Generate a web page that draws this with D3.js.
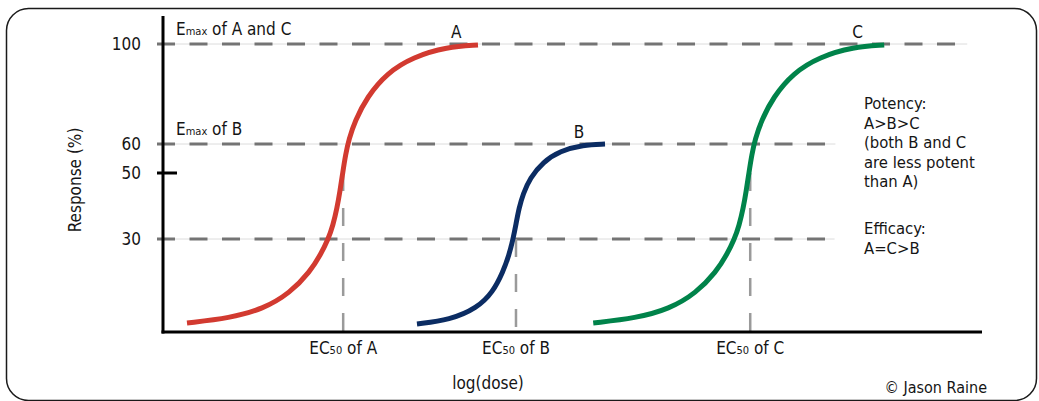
<!DOCTYPE html>
<html><head><meta charset="utf-8">
<script src="https://cdn.jsdelivr.net/npm/d3@7"></script>
<style>
html,body{margin:0;padding:0;background:#fff;}
svg{display:block;}
text{font-family:"DejaVu Sans Condensed","Liberation Sans Narrow",sans-serif;fill:#151515;}
</style></head><body>
<svg id="c" width="1039" height="401"></svg>
<script>
// ---- data (log-dose units, response %) ----
const curveNames = ["A", "B", "C"];
const curveColors = ["#d23a30", "#0b2c63", "#00834a"];
const doseA = [0.293,0.818,1.221,1.551,1.795,1.929,2.015,2.076,2.125,2.161,2.194,2.228,2.271,2.344,2.491,2.735,3.053,3.468,3.846];
const respA = [2.9,4.5,7.4,12.6,19.4,25.2,29.8,34.2,39.4,44.5,50.0,56.2,62.0,69.2,78.8,88.4,94.8,98.8,99.6];
const doseB = [3.101,3.504,3.834,4.029,4.151,4.225,4.274,4.310,4.347,4.396,4.481,4.640,4.847,5.128,5.397];
const respB = [2.6,3.9,7.7,12.9,19.4,24.8,30,34.5,39.4,43.6,48.5,53.8,57.6,59.7,60];
const doseC = [5.253,5.778,6.181,6.511,6.755,6.889,6.975,7.036,7.085,7.121,7.154,7.188,7.231,7.304,7.451,7.695,8.013,8.428,8.806];
const respC = [2.9,4.5,7.4,12.6,19.4,25.2,29.8,34.2,39.4,44.5,50.0,56.2,62.0,69.2,78.8,88.4,94.8,98.8,99.6];
const ec50Dose = [2.20, 4.31, 7.17];
const ec50Top = [50, 30, 50];
const yTickValues = [30, 50, 60, 100];
const yMajorTick = [50];
const gridLevels = [100, 60, 30];
const gridEnds = [9.82, 8.21, 8.20];
const curveLabelDose = [3.58, 5.08, 8.48];
const curveLabelResp = [100, 60, 100];
const potencyLines = ["Potency:", "A>B>C", "(both B and C", "are less potent", "than A)"];
const efficacyLines = ["Efficacy:", "A=C>B"];

const svg = d3.select("#c");
const FS = 17;

// border
svg.append("rect").attr("x", 6.5).attr("y", 8.5).attr("width", 1030).attr("height", 392)
  .attr("rx", 22).attr("fill", "none").attr("stroke", "#1a1a1a").attr("stroke-width", 1.5);

// scales
const x = d3.scaleLinear().domain([0, 10]).range([163, 982]);
const y = d3.scaleLinear().domain([0, 30, 50, 60, 100, 111.2]).range([332, 239, 173, 144, 44, 16]);

// gridlines
gridLevels.forEach((lv, i) => {
  svg.append("line").attr("x1", x(0) - 6).attr("x2", x(gridEnds[i]))
    .attr("y1", y(lv)).attr("y2", y(lv))
    .attr("stroke", "#dcdcdc").attr("stroke-width", 1);
  svg.append("line").attr("x1", x(0) - 6).attr("x2", x(gridEnds[i]))
    .attr("y1", y(lv)).attr("y2", y(lv))
    .attr("stroke", "#747474").attr("stroke-width", 3)
    .attr("stroke-dasharray", "18,14.5");
});

// EC50 vertical lines
ec50Dose.forEach((d, i) => {
  svg.append("line").attr("x1", x(d)).attr("x2", x(d))
    .attr("y1", y(ec50Top[i])).attr("y2", y(0) + 6)
    .attr("stroke", "#9a9a9a").attr("stroke-width", 2.5)
    .attr("stroke-dasharray", "18,17");
});

// axes
const yAxis = d3.axisLeft(y).tickValues(yTickValues).tickSize(0).tickPadding(22).tickFormat(d3.format("d"));
const gy = svg.append("g").attr("transform", `translate(${x(0)},0)`).call(yAxis);
gy.select(".domain").remove();
gy.selectAll("text").attr("font-size", FS).attr("font-family", null).attr("fill", "#151515");

svg.append("line").attr("x1", x(0)).attr("x2", x(0)).attr("y1", y(111.2)).attr("y2", y(0) + 1.5)
  .attr("stroke", "#000").attr("stroke-width", 3);
svg.append("line").attr("x1", x(0) - 1.5).attr("x2", x(10)).attr("y1", y(0)).attr("y2", y(0))
  .attr("stroke", "#000").attr("stroke-width", 3);
yMajorTick.forEach(v => {
  svg.append("line").attr("x1", x(0) - 6).attr("x2", x(0) + 14).attr("y1", y(v)).attr("y2", y(v))
    .attr("stroke", "#000").attr("stroke-width", 3);
});

// curves
const line = d3.line().x(d => x(d[0])).y(d => y(d[1])).curve(d3.curveBasis);
const series = [d3.zip(doseA, respA), d3.zip(doseB, respB), d3.zip(doseC, respC)];
series.forEach((s, i) => {
  svg.append("path").datum(s).attr("d", line).attr("fill", "none")
    .attr("stroke", curveColors[i]).attr("stroke-width", 5);
});

// curve labels
curveNames.forEach((n, i) => {
  svg.append("text").attr("x", x(curveLabelDose[i])).attr("y", y(curveLabelResp[i]) - 6)
    .attr("text-anchor", "middle").attr("font-size", FS).text(n);
});

// Emax / EC50 labels with subscripts
function subText(xp, yp, pre, sub, post, anchor) {
  const t = svg.append("text").attr("x", xp).attr("y", yp).attr("font-size", FS)
    .attr("text-anchor", anchor || "start");
  t.append("tspan").text(pre);
  t.append("tspan").attr("font-size", 11).text(sub);
  t.append("tspan").text(post);
  return t;
}
subText(x(0) + 13, y(100) - 9, "E", "max", " of A and C");
subText(x(0) + 13, y(60) - 9, "E", "max", " of B");
ec50Dose.forEach((d, i) => {
  subText(x(d), y(0) + 22, "EC", "50", " of " + curveNames[i], "middle");
});

// axis titles
svg.append("text").attr("x", 488).attr("y", 389).attr("text-anchor", "middle")
  .attr("font-size", FS).text("log(dose)");
svg.append("text").attr("transform", "translate(81,180) rotate(-90)").attr("text-anchor", "middle")
  .attr("font-size", FS).text("Response (%)");

// notes
const NFS = 16.5;
const notes = svg.append("text").attr("x", 864).attr("y", 109).attr("font-size", NFS);
potencyLines.forEach((l, i) => notes.append("tspan").attr("x", 864).attr("dy", i ? 19.5 : 0).text(l));
const notes2 = svg.append("text").attr("x", 864).attr("y", 234).attr("font-size", NFS);
efficacyLines.forEach((l, i) => notes2.append("tspan").attr("x", 864).attr("dy", i ? 19.5 : 0).text(l));

// credit
svg.append("text").attr("x", 987).attr("y", 393).attr("text-anchor", "end")
  .attr("font-size", 16).text("© Jason Raine");
</script>
</body></html>
